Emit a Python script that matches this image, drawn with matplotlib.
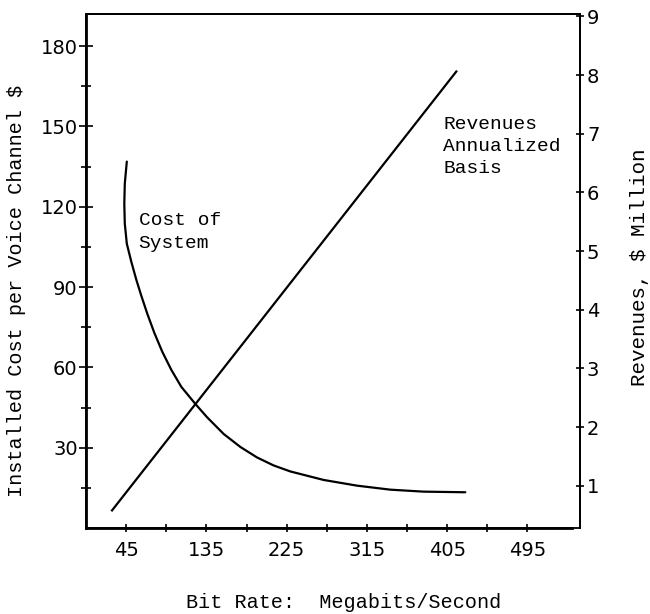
import numpy as np
import matplotlib.pyplot as plt
from matplotlib.ticker import FixedLocator

# cost of system curve (bit rate Mb/s, installed cost $ per voice channel)
cost_rate = [45.76, 43.51, 42.95, 43.51, 45.76, 50.80, 56.41, 62.02, 68.75, 76.60,
             85.57, 95.66, 106.88, 122.58, 135.70, 154.31, 173.04, 191.77, 210.39,
             229.12, 266.46, 303.91, 341.26, 378.60, 425.37]
cost_value = [136.87, 128.65, 121.17, 113.69, 106.21, 99.48, 92.75, 86.76, 80.03, 72.92,
              65.82, 59.09, 52.73, 46.37, 41.40, 35.15, 30.29, 26.36, 23.37,
              21.13, 17.95, 15.82, 14.32, 13.58, 13.35]

# revenues line (bit rate Mb/s, $ million)
rev_rate = [29.2, 415.3]
rev_value = [0.58, 8.06]

x_ticks = [45, 135, 225, 315, 405, 495]
x_minor = [90, 180, 270, 360, 450]
left_ticks = [30, 60, 90, 120, 150, 180]
left_minor = [15, 45, 75, 105, 135, 165]
right_ticks = [1, 2, 3, 4, 5, 6, 7, 8, 9]

mono = 'Liberation Mono'

fig = plt.figure(figsize=(6.5, 6.14), dpi=100)
ax = fig.add_axes([86/650, 86/614, 494/650, 514/614])
ax2 = ax.twinx()

ax.plot(cost_rate, cost_value, color='black', lw=1.6,
        solid_joinstyle='round', solid_capstyle='round')
ax2.plot(rev_rate, rev_value, color='black', lw=1.6)

ax.set_xlim(0, 554)
ax.set_ylim(0, 192)
ax2.set_ylim(0.28, 9.04)

ax.set_xticks(x_ticks)
ax.xaxis.set_minor_locator(FixedLocator(x_minor))
ax.set_yticks(left_ticks)
ax.yaxis.set_minor_locator(FixedLocator(left_minor))
ax2.set_yticks(right_ticks)

ax.tick_params(axis='y', which='major', direction='inout', length=10, width=1.2,
               labelsize=14, pad=1)
ax.tick_params(axis='y', which='minor', direction='inout', length=7, width=1.2)
ax.tick_params(axis='x', which='both', direction='inout', length=6, width=1.2,
               labelsize=14, pad=6)
ax2.tick_params(axis='y', direction='inout', length=6, width=1.2, labelsize=14, pad=2)

for a in (ax, ax2):
    for s in a.spines.values():
        s.set_linewidth(1.3)
ax.spines['left'].set_linewidth(2)
ax.spines['bottom'].set_linewidth(2)
ax.spines['bottom'].set_bounds(0, 545)

ax.set_xlabel('Bit Rate:  Megabits/Second', fontsize=14.5, family=mono, va='center')
ax.xaxis.set_label_coords(0.522, -0.144)
ax.set_ylabel('Installed Cost per Voice Channel \\$', fontsize=14.5, family=mono,
              va='center')
ax.yaxis.set_label_coords(-0.14, 0.462)
ax2.set_ylabel('Revenues, \\$ Million', fontsize=15, family=mono, va='center',
               rotation=90)
ax2.yaxis.set_label_coords(1.121, 0.508)

ax.text(59, 110.5, 'Cost of\nSystem', fontsize=14, family=mono,
        ha='left', va='center', linespacing=1.5)
ax.text(400.7, 142.5, 'Revenues\nAnnualized\nBasis', fontsize=14, family=mono,
        ha='left', va='center', linespacing=1.35)

fig.savefig('out.png', dpi=100)
